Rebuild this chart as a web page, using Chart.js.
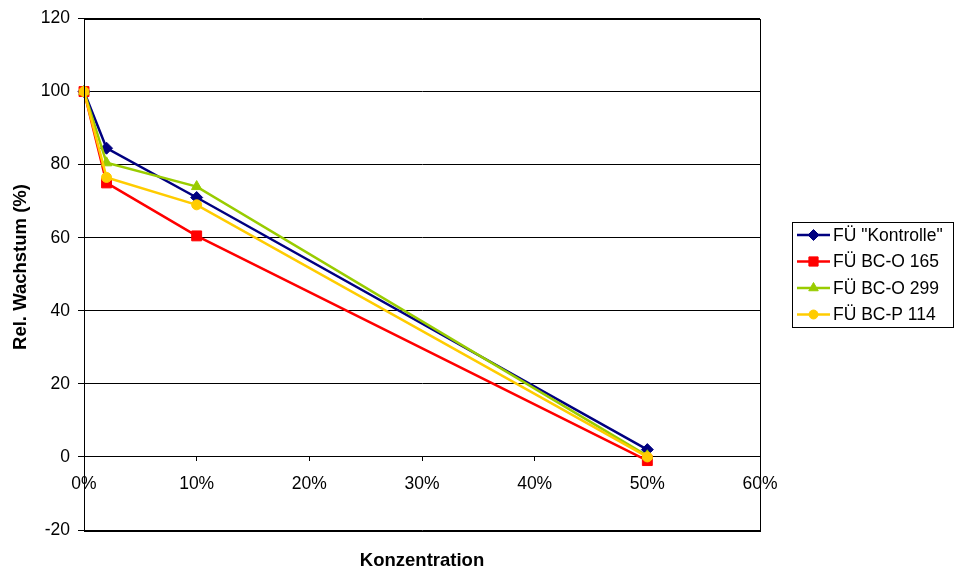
<!DOCTYPE html>
<html>
<head>
<meta charset="utf-8">
<script src="https://cdn.jsdelivr.net/npm/chart.js@4/dist/chart.umd.min.js"></script>
<style>
  html, body { margin: 0; padding: 0; background: #fff; }
  #wrap { width: 955px; height: 572px; position: relative; }
</style>
</head>
<body>
<div id="wrap"><canvas id="c" width="955" height="572"></canvas></div>
<script>
// Konzentration (Anteil) und relatives Wachstum in %
const concentrations = [0, 0.02, 0.1, 0.5];
const kontrolle = [100, 84.5, 71, 2];
const bco165 = [100, 75, 60.5, -1];
const bco299 = [100, 80.5, 74, 0.3];
const bcp114 = [100, 76.5, 69, 0];
const seriesNames = ['FÜ "Kontrolle"', 'FÜ BC-O 165', 'FÜ BC-O 299', 'FÜ BC-P 114'];
const yTicks = [-20, 0, 20, 40, 60, 80, 100, 120];
const xTicks = [0, 0.1, 0.2, 0.3, 0.4, 0.5, 0.6];

const FONT = 'Liberation Sans, Arial, sans-serif';
const LABEL_SIZE = 17.5;
const TITLE_SIZE = 18.5;

function pts(values) {
  return concentrations.map((x, i) => ({ x: x, y: values[i] }));
}

const styles = [
  { color: '#000080', point: 'rectRot', r: 6 },
  { color: '#FF0000', point: 'rect', r: 7 },
  { color: '#99CC00', point: 'triangle', r: 6 },
  { color: '#FFCC00', point: 'circle', r: 5 }
];
const allValues = [kontrolle, bco165, bco299, bcp114];

const datasets = allValues.map((vals, i) => ({
  label: seriesNames[i],
  data: pts(vals),
  borderColor: styles[i].color,
  backgroundColor: styles[i].color,
  borderWidth: 2.5,
  pointStyle: styles[i].point,
  pointRadius: styles[i].r,
  pointHoverRadius: styles[i].r,
  pointBorderWidth: 1,
  tension: 0,
  clip: false,
  order: allValues.length - 1 - i
}));

// Rahmen um die Zeichenfläche, Achsentitel und Legende
const decor = {
  id: 'decor',
  afterDatasetsDraw(chart) {
    const { ctx, chartArea: a } = chart;
    ctx.save();
    ctx.strokeStyle = '#000';
    ctx.lineWidth = 1;
    ctx.strokeRect(Math.round(a.left) + 0.5, Math.round(a.top) + 0.5,
                   Math.round(a.right - a.left), Math.round(a.bottom - a.top));

    // Achsentitel
    ctx.fillStyle = '#000';
    ctx.font = 'bold ' + TITLE_SIZE + 'px ' + FONT;
    ctx.textAlign = 'center';
    ctx.textBaseline = 'middle';
    ctx.fillText('Konzentration', (a.left + a.right) / 2, 561);
    ctx.save();
    ctx.translate(21, 267);
    ctx.rotate(-Math.PI / 2);
    ctx.fillText('Rel. Wachstum (%)', 0, 0);
    ctx.restore();

    // Legende
    const lx = 792.5, ly = 222.5, lw = 161, lh = 105;
    ctx.strokeStyle = '#000';
    ctx.lineWidth = 1;
    ctx.strokeRect(lx, ly, lw, lh);
    ctx.font = LABEL_SIZE + 'px ' + FONT;
    ctx.textAlign = 'left';
    chart.data.datasets.forEach((ds, i) => {
      const y = 235 + i * 26.5;
      ctx.strokeStyle = ds.borderColor;
      ctx.fillStyle = ds.backgroundColor;
      ctx.lineWidth = 2.5;
      ctx.beginPath();
      ctx.moveTo(797, y);
      ctx.lineTo(830, y);
      ctx.stroke();
      ctx.lineWidth = 1;
      Chart.helpers.drawPoint(ctx, {
        pointStyle: ds.pointStyle,
        radius: ds.pointRadius - 0.5,
        rotation: 0,
        borderWidth: 1
      }, 813.5, y);
      ctx.fillStyle = '#000';
      ctx.fillText(ds.label, 833, y + 1);
    });
    ctx.restore();
  }
};

new Chart(document.getElementById('c'), {
  type: 'line',
  data: { datasets: datasets },
  options: {
    responsive: false,
    animation: false,
    layout: { padding: { left: 0, right: 195, top: 18, bottom: 42 } },
    plugins: {
      legend: { display: false },
      tooltip: { enabled: false }
    },
    scales: {
      x: {
        type: 'linear',
        position: { y: 0 },
        min: 0,
        max: 0.6,
        afterBuildTicks(scale) { scale.ticks = xTicks.map(v => ({ value: v })); },
        ticks: {
          color: '#000',
          font: { family: FONT, size: LABEL_SIZE },
          padding: 13,
          maxRotation: 0,
          callback: v => Math.round(v * 100) + '%'
        },
        grid: { drawOnChartArea: false, color: '#000', tickLength: 4 },
        border: { color: '#000', width: 1 }
      },
      y: {
        min: -20,
        max: 120,
        afterBuildTicks(scale) { scale.ticks = yTicks.map(v => ({ value: v })); },
        afterFit(scale) { scale.width = 84; },
        ticks: {
          color: '#000',
          font: { family: FONT, size: LABEL_SIZE },
          padding: 8
        },
        grid: { color: '#000', lineWidth: 1, tickLength: 6 },
        border: { color: '#000', width: 1 }
      }
    }
  },
  plugins: [decor]
});
</script>
</body>
</html>
